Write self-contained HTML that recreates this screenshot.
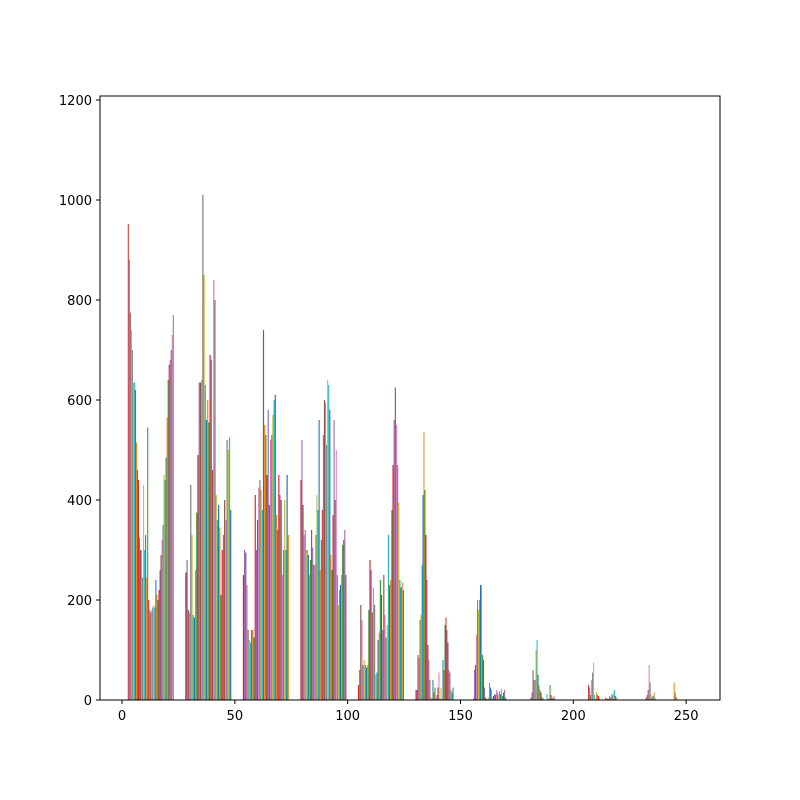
<!DOCTYPE html>
<html><head><meta charset="utf-8"><style>
body{margin:0;background:#fff}
svg{display:block}
text{font-family:"DejaVu Sans","Liberation Sans",sans-serif;font-size:13px;fill:#000}
</style></head><body>
<svg id="chart" width="800" height="800" viewBox="0 0 800 800" xmlns="http://www.w3.org/2000/svg">
<rect width="800" height="800" fill="#fff"/>
<g id="bars"></g>
<g id="axes"></g>
</svg>
<script>
const binEdgesStart = 0;
const binWidth = 25.5;
const xTicks = [0, 50, 100, 150, 200, 250];
const yTicks = [0, 200, 400, 600, 800, 1000, 1200];
const bin1 = [952,880,775,740,700,635,635,620,515,460,440,325,300,300,245,430,300,330,245,545,200,180,175,180,185,190,185,240,210,200,220,260,290,320,350,450,440,485,565,640,670,680,700,730,770];
const bin2 = [255,280,180,175,430,330,170,165,260,375,490,635,635,640,1010,850,630,560,600,555,690,680,460,840,800,410,360,390,345,210,300,330,400,360,520,500,525,380];
const bin3 = [250,300,295,230,140,120,115,140,140,125,410,300,360,425,440,420,380,740,550,530,450,580,390,520,530,570,600,610,370,340,450,410,400,250,300,400,300,450,330];
const bin4 = [440,520,390,330,340,300,300,290,250,280,340,305,270,270,330,410,380,560,260,320,380,530,600,595,510,640,630,580,290,260,370,560,400,500,250,190,220,230,250,310,320,340,250];
const bin5 = [30,60,190,160,70,80,70,65,70,180,280,260,175,225,190,50,55,120,135,240,210,140,250,170,125,150,330,230,240,380,470,560,625,550,470,395,240,225,235,220];
const bin6 = [20,20,90,85,160,170,270,410,535,420,330,240,110,80,40,5,3,40,15,25,3,10,25,55,3,25,2,80,60,150,165,140,115,60,55,20,15,25,0,0,0,0,0,0,0,0];
const bin7 = [3,60,70,130,200,180,200,230,230,90,80,25,5,3,2,5,35,25,20,3,8,12,10,20,15,10,18,12,22,8,15,20,5,0,0,0,0,0,0,0,0,0,0,0,0,0];
const bin8 = [5,15,60,40,40,100,120,50,30,20,15,5,3,0,0,0,12,2,3,30,10,3,5,8,2,0,0,0,0,0,0,0,0,0,0,0,0,0,0,0,0,0,0,0,0,0];
const bin9 = [30,25,10,40,55,75,10,2,15,10,8,3,0,0,0,0,0,4,3,3,2,8,5,12,10,15,20,8,5,0,0,0,0,0,0,0,0,0,0,0,0,0,0,0,0,0];
const bin10 = [5,10,20,70,35,10,5,8,15,3,0,0,0,0,0,0,0,0,0,0,0,0,0,0,0,0,0,0,35,15,5,0,0,0,0,0,0,0,0,0,0,0,0,0,0,0];
const bins = [bin1,bin2,bin3,bin4,bin5,bin6,bin7,bin8,bin9,bin10];
const colors = ['#d62728','#9467bd','#8c564b','#e377c2','#7f7f7f','#bcbd22','#17becf','#1f77b4','#ff7f0e','#2ca02c'];

const L=100,R=720,T=96,B=700, xMin=-9.75, xMax=265, yMin=0, yMax=1208;
const xs=v=>L+(v-xMin)/(xMax-xMin)*(R-L);
const ys=v=>B-(v-yMin)/(yMax-yMin)*(B-T);
const NS="http://www.w3.org/2000/svg";
const barsG=document.getElementById('bars'), axG=document.getElementById('axes');
bins.forEach((b,bi)=>{
  const x0=binEdgesStart+bi*binWidth+binWidth*0.1;
  const bw=binWidth*0.8/b.length;
  b.forEach((v,di)=>{
    if(!v) return;
    const r=document.createElementNS(NS,'rect');
    const xa=xs(x0+di*bw), xb=xs(x0+(di+1)*bw);
    r.setAttribute('x',xa); r.setAttribute('width',Math.max(0.8,xb-xa));
    r.setAttribute('y',ys(v)); r.setAttribute('height',ys(0)-ys(v));
    r.setAttribute('fill',colors[di%colors.length]);
    
    
    barsG.appendChild(r);
  });
});
const frame=document.createElementNS(NS,'rect');
frame.setAttribute('x',L);frame.setAttribute('y',T);frame.setAttribute('width',R-L);frame.setAttribute('height',B-T);
frame.setAttribute('fill','none');frame.setAttribute('stroke','#000');frame.setAttribute('stroke-width','1');


axG.appendChild(frame);
xTicks.forEach(t=>{
  const x=xs(t);
  const l=document.createElementNS(NS,'line');
  l.setAttribute('x1',x);l.setAttribute('x2',x);l.setAttribute('y1',B);l.setAttribute('y2',B+4);l.setAttribute('stroke','#000');
  
  
  axG.appendChild(l);
  const tx=document.createElementNS(NS,'text');
  tx.setAttribute('x',x);tx.setAttribute('y',B+20);tx.setAttribute('text-anchor','middle');tx.textContent=t;
  
  
  axG.appendChild(tx);
});
yTicks.forEach(t=>{
  const y=ys(t);
  const l=document.createElementNS(NS,'line');
  l.setAttribute('x1',L-4);l.setAttribute('x2',L);l.setAttribute('y1',y);l.setAttribute('y2',y);l.setAttribute('stroke','#000');
  
  
  axG.appendChild(l);
  const tx=document.createElementNS(NS,'text');
  tx.setAttribute('x',L-8);tx.setAttribute('y',y+5);tx.setAttribute('text-anchor','end');tx.textContent=t;
  
  
  axG.appendChild(tx);
});
</script>
</body></html>
